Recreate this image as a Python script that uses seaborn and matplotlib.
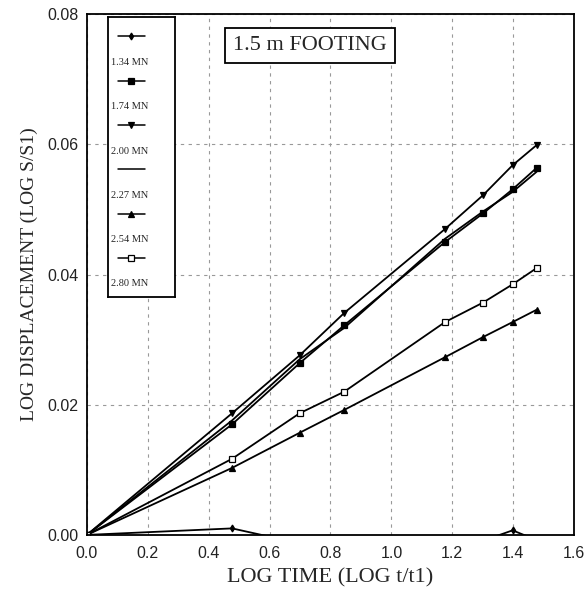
import numpy as np
import pandas as pd
import matplotlib
matplotlib.use("Agg")
import matplotlib.pyplot as plt
import seaborn as sns
from matplotlib.ticker import MultipleLocator, FormatStrFormatter

log_time = [0.0, 0.477, 0.699, 0.845, 1.176, 1.301, 1.398, 1.477]
loads = ["1.34 MN", "1.74 MN", "2.00 MN", "2.27 MN", "2.54 MN", "2.80 MN"]
s_134 = [0.0, 0.0010, -0.0013, -0.0010, -0.0012, -0.0009, 0.0007, -0.0008]
s_174 = [0.0, 0.0170, 0.0264, 0.0322, 0.0450, 0.0494, 0.0531, 0.0564]
s_200 = [0.0, 0.0187, 0.0276, 0.0341, 0.0470, 0.0522, 0.0568, 0.0599]
s_227 = [0.0, 0.0176, 0.0270, 0.0318, 0.0455, 0.0497, 0.0527, 0.0558]
s_254 = [0.0, 0.0103, 0.0157, 0.0192, 0.0273, 0.0304, 0.0327, 0.0346]
s_280 = [0.0, 0.0117, 0.0187, 0.0220, 0.0327, 0.0357, 0.0385, 0.0410]
series = [s_134, s_174, s_200, s_227, s_254, s_280]

markers = ["d", "s", "v", "", "^", "s"]
msizes = [3.5, 4.8, 4.2, 0, 4.2, 4.2]
mfaces = ["black", "black", "black", "black", "black", "white"]

sns.set_style("white")
serif = ["Liberation Serif", "DejaVu Serif"]
sans = ["Liberation Sans", "DejaVu Sans"]

fig = plt.figure(figsize=(5.87, 5.95), dpi=100)
ax = fig.add_axes([0.148, 0.101, 0.830, 0.875])

for lab, vals, m, ms, mf in zip(loads, series, markers, msizes, mfaces):
    df = pd.DataFrame({"x": log_time, "y": vals})
    sns.lineplot(data=df, x="x", y="y", ax=ax, color="black", lw=1.3,
                 marker=m if m else None, markersize=ms, markerfacecolor=mf,
                 markeredgecolor="black", markeredgewidth=0.9, sort=False,
                 label=lab, legend=False, clip_on=True)

ax.set_xlim(0, 1.6)
ax.set_ylim(0, 0.08)
ax.xaxis.set_major_locator(MultipleLocator(0.2))
ax.yaxis.set_major_locator(MultipleLocator(0.02))
ax.yaxis.set_minor_locator(MultipleLocator(0.01))
ax.xaxis.set_major_formatter(FormatStrFormatter("%.1f"))
ax.yaxis.set_major_formatter(FormatStrFormatter("%.2f"))
ax.tick_params(axis="both", which="both", direction="in", length=5, width=1,
               color="black", labelsize=11.5, labelcolor="#222222")
ax.tick_params(axis="y", which="major", pad=6)
ax.tick_params(axis="x", which="major", pad=8)
for t in ax.get_xticklabels() + ax.get_yticklabels():
    t.set_family(sans)
ax.grid(True, which="major", linestyle=(0, (3, 4)), color="#999999", lw=0.8)
for sp in ax.spines.values():
    sp.set_color("black")
    sp.set_linewidth(1.3)

ax.set_xlabel("LOG TIME (LOG t/t1)", family=serif, fontsize=16, labelpad=5)
ax.set_ylabel("LOG DISPLACEMENT (LOG S/S1)", family=serif, fontsize=14, labelpad=7)

# title box
ax.text(0.458, 0.940, "1.5 m FOOTING", transform=ax.transAxes, family=serif,
        fontsize=16, ha="center", va="center",
        bbox=dict(boxstyle="square,pad=0.35", fc="white", ec="black", lw=1.3))

# legend box (handle above label)
lg = ax.inset_axes([0.043, 0.457, 0.138, 0.537])
lg.set_xlim(0, 1)
lg.set_ylim(0, 1)
lg.set_xticks([])
lg.set_yticks([])
lg.set_facecolor("white")
for sp in lg.spines.values():
    sp.set_color("black")
    sp.set_linewidth(1.3)
for i, (lab, m, ms, mf) in enumerate(zip(loads, markers, msizes, mfaces)):
    yh = 1 - (19 + i * 44.4) / 280
    yl = 1 - (45 + i * 44.4) / 280
    lg.plot([0.15, 0.55], [yh, yh], color="black", lw=1.1)
    if m:
        lg.plot([0.35], [yh], marker=m, ms=ms, mfc=mf, mec="black", mew=0.9, color="black")
    lg.text(0.04, yl, lab, family=serif, fontsize=7.5, ha="left", va="center")

fig.savefig("out.png", dpi=100)
